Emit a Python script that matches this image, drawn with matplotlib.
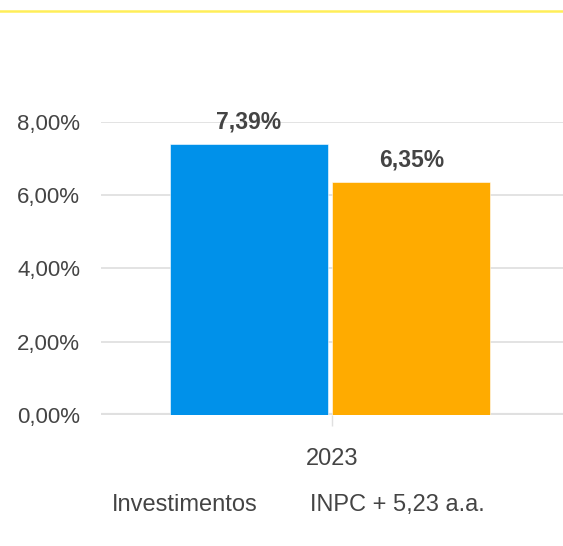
import matplotlib.pyplot as plt
from matplotlib.lines import Line2D
import numpy as np

plt.rcParams["font.family"] = ["Liberation Sans", "DejaVu Sans"]

# Datos
categorias = ["2023"]
series = ["Investimentos", "INPC + 5,23 a.a."]
valores = [7.39, 6.35]
etiquetas = ["7,39%", "6,35%"]
colores = ["#0091EA", "#FFAB00"]
yticks = [0, 2, 4, 6, 8]
ytick_labels = ["0,00%", "2,00%", "4,00%", "6,00%", "8,00%"]

fig = plt.figure(figsize=(5.63, 5.46), dpi=100)
ax = fig.add_axes([0.1794, 0.2399, 0.8206, 0.5367])

# Linea amarilla superior
fig.add_artist(Line2D([0, 1], [0.980, 0.980], transform=fig.transFigure,
                      color="#FFEB3B", linewidth=1.8, alpha=0.85))

# Barras
ancho = 0.342
offsets = [-0.18, 0.172]
x = np.arange(len(categorias))
for i in range(len(series)):
    ax.bar(x + offsets[i], [valores[i]], width=ancho,
           color=colores[i], edgecolor="white", linewidth=0.4, zorder=3)
    ax.annotate(etiquetas[i], (x[0] + offsets[i], valores[i]),
                xytext=(0, 7.5), textcoords="offset points",
                ha="center", va="bottom", fontsize=16.5,
                fontweight="bold", color="#444444", annotation_clip=False)

# Ejes
ax.set_xlim(-0.5, 0.5)
ax.set_ylim(0, 8)
ax.set_yticks(yticks)
ax.set_yticklabels(ytick_labels)
ax.set_xticks(x)
ax.set_xticklabels(categorias)
ax.tick_params(axis="y", length=0, pad=15, labelsize=16, labelcolor="#444444")
ax.tick_params(axis="x", length=8, width=1, color="#e0e0e0", pad=15.5,
               labelsize=17, labelcolor="#444444")
for s in ax.spines.values():
    s.set_visible(False)
ax.grid(axis="y", color="#e0e0e0", linewidth=1.3, zorder=0)
ax.axhline(0, color="#e0e0e0", linewidth=3, zorder=2)

# Leyenda sin marcadores
fig.text(112 / 563, 0.075, series[0], fontsize=17, color="#444444",
         ha="left", va="center")
fig.text(310 / 563, 0.075, series[1], fontsize=17, color="#444444",
         ha="left", va="center")

plt.savefig("out.png", dpi=100)
